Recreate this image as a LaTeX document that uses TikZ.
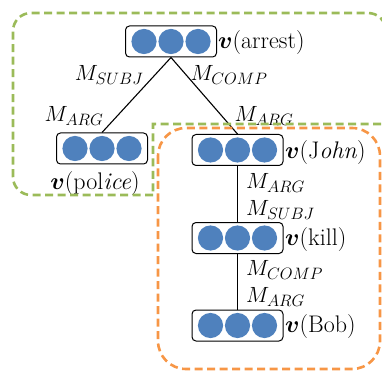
\RequirePackage{fix-cm}
\documentclass[tikz,border=0pt]{standalone}
\usepackage{amsmath,bm}
\DeclareMathSizes{22}{22}{16.5}{12}
\definecolor{vecblue}{RGB}{79,129,189}
\definecolor{framegreen}{RGB}{155,187,89}
\definecolor{frameorange}{RGB}{247,150,70}
\newcommand{\vecdots}[1]{%
  \foreach \dx in {-27,0,27}
    \fill[vecblue] ([xshift=\dx pt]#1.center) circle[radius=12.6pt];}
\begin{document}
\begin{tikzpicture}[x=1pt,y=-1pt,
  font=\fontsize{22}{26}\selectfont,
  vecbox/.style={draw, rounded corners=4pt, minimum width=91pt,
    minimum height=31pt, inner sep=0pt, line width=1pt},
  edge/.style={line width=1.1pt},
  lbl/.style={inner sep=0pt},
  vname/.style={inner sep=0pt, font=\fontsize{24}{28}\selectfont},
  wlbl/.style={inner sep=0pt, anchor=west},
  frame/.style={line width=2.6pt, dash pattern=on 8pt off 4.5pt}]
\useasboundingbox (0,0) rectangle (382,371);

% word vectors
\node[vecbox] (arrest) at (171,41.5) {};
\node[vecbox] (police) at (102,148.5) {};
\node[vecbox] (john) at (237.5,150) {};
\node[vecbox] (kill) at (237.5,238) {};
\node[vecbox] (bob) at (237.5,325.5) {};
\vecdots{arrest}
\vecdots{police}
\vecdots{john}
\vecdots{kill}
\vecdots{bob}

% vector names
\node[vname, anchor=west] (tarrest) at (218,43) {$\bm{v}$(arrest)};
\node[vname] (tpolice) at (95,184) {$\bm{v}$(pol\textit{ice})};
\node[vname, anchor=west] (tjohn) at (285,153) {$\bm{v}$(J\textit{ohn})};
\node[vname, anchor=west] (tkill) at (285,240) {$\bm{v}$(kill)};
\node[vname, anchor=west] (tbob) at (285,327) {$\bm{v}$(Bob)};

% dependency edges
\draw[edge] (arrest.south) -- (police.north);
\draw[edge] (arrest.south) -- (john.north);
\draw[edge] (john.south) -- (kill.north);
\draw[edge] (kill.south) -- (bob.north);

% edge matrices
\node[lbl] (m1) at (109,75) {$M_{SUBJ}$};
\node[lbl] (m2) at (229,75) {$M_{COMP}$};
\node[lbl] (m3) at (74,116) {$M_{ARG}$};
\node[lbl] (m4) at (264,116) {$M_{ARG}$};
\node[wlbl] (m5) at (246,183) {$M_{ARG}$};
\node[wlbl] (m6) at (246,210) {$M_{SUBJ}$};
\node[wlbl] (m7) at (246,270) {$M_{COMP}$};
\node[wlbl] (m8) at (246,297) {$M_{ARG}$};

% phrase regions
\draw[frame, framegreen] (153,195) [rounded corners=18pt] -- (13,195) -- (13,13)
  -- (386,13) [sharp corners] -- (386,124) -- (153,124) -- (153,195);
\draw[frame, frameorange, rounded corners=28pt] (158,128) rectangle (380,369);
\end{tikzpicture}
\end{document}
